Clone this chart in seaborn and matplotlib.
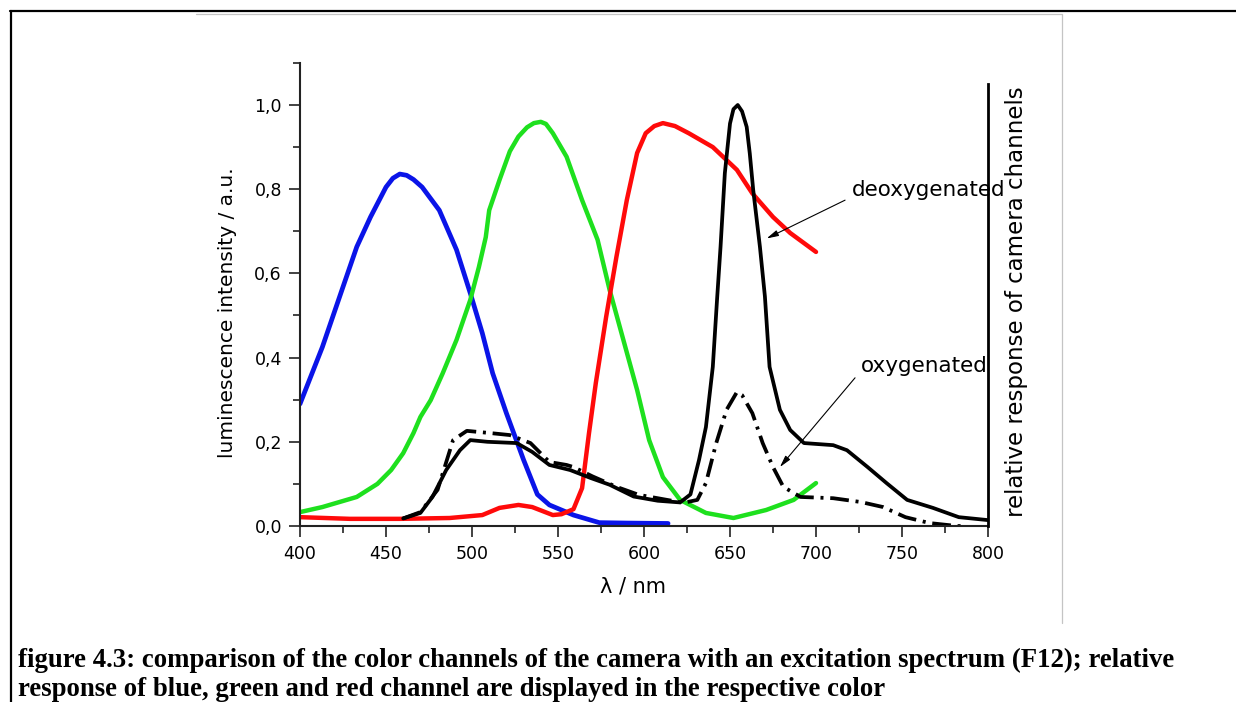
import numpy as np
import pandas as pd
import seaborn as sns
import matplotlib
matplotlib.use("Agg")
import matplotlib.pyplot as plt
from matplotlib.lines import Line2D
from matplotlib.ticker import MultipleLocator, FuncFormatter

# Camera channel responses (wavelength in nm, relative response)
blue_nm = [400, 413, 425, 433, 441, 450, 454, 458, 462, 466, 471, 481, 491,
           499, 506, 512, 520, 530, 538, 545, 559, 574, 590, 614]
blue_val = [0.29, 0.425, 0.568, 0.663, 0.734, 0.805, 0.826, 0.836, 0.833,
            0.823, 0.805, 0.75, 0.656, 0.553, 0.458, 0.363, 0.268, 0.157,
            0.075, 0.05, 0.026, 0.008, 0.007, 0.006]

green_nm = [400, 413, 433, 445, 453, 460, 466, 470, 476, 483, 491, 499, 504,
            508, 510, 516, 522, 527, 532, 536, 540, 543, 547, 555, 564, 573,
            580, 588, 596, 603, 611, 621, 636, 652, 671, 687, 700]
green_val = [0.033, 0.045, 0.069, 0.10, 0.133, 0.173, 0.221, 0.259, 0.299,
             0.363, 0.442, 0.537, 0.615, 0.686, 0.75, 0.822, 0.89, 0.925,
             0.947, 0.957, 0.96, 0.955, 0.933, 0.877, 0.774, 0.68, 0.561,
             0.442, 0.323, 0.204, 0.116, 0.062, 0.031, 0.019, 0.038, 0.062,
             0.102]

red_nm = [400, 429, 458, 487, 506, 516, 527, 535, 547, 552, 559, 564, 568,
          572, 578, 584, 590, 596, 601, 606, 611, 618, 626, 640, 654, 663,
          675, 685, 700]
red_val = [0.021, 0.017, 0.017, 0.019, 0.026, 0.043, 0.05, 0.045, 0.026,
           0.028, 0.04, 0.09, 0.22, 0.34, 0.497, 0.64, 0.774, 0.886, 0.933,
           0.95, 0.957, 0.95, 0.933, 0.90, 0.846, 0.79, 0.734, 0.696, 0.651]

# Luminescence spectra (F12)
deoxy_nm = [460, 470, 477, 485, 493, 499, 509, 526, 535, 545, 557, 569, 580,
            594, 608, 621, 627, 632, 636, 640, 642.5, 644.5, 647, 650, 652,
            654.5, 657, 659.7, 661.5, 663.5, 667.4, 670.3, 673, 679, 685, 693,
            710, 718, 730, 741, 753, 768, 783, 800]
deoxy_val = [0.018, 0.031, 0.069, 0.133, 0.18, 0.204, 0.2, 0.197, 0.176,
             0.145, 0.133, 0.114, 0.098, 0.07, 0.06, 0.056, 0.075, 0.157,
             0.235, 0.378, 0.54, 0.663, 0.838, 0.956, 0.99, 1.0, 0.985,
             0.948, 0.885, 0.798, 0.663, 0.545, 0.378, 0.276, 0.228, 0.197,
             0.192, 0.18, 0.14, 0.102, 0.062, 0.043, 0.021, 0.014]

oxy_nm = [460, 470, 480, 489, 497, 510, 522, 534, 545, 555, 559, 570, 584,
          597, 608, 623, 631, 636, 642, 648, 654, 657, 663, 669, 675, 681,
          691, 710, 726, 739, 752, 766, 782, 786]
oxy_val = [0.018, 0.033, 0.086, 0.204, 0.226, 0.221, 0.216, 0.197, 0.152,
           0.145, 0.14, 0.118, 0.093, 0.074, 0.066, 0.055, 0.062, 0.102,
           0.197, 0.276, 0.318, 0.311, 0.268, 0.197, 0.14, 0.093, 0.069,
           0.066, 0.057, 0.045, 0.021, 0.007, 0.0, 0.0]

x_ticks = [400, 450, 500, 550, 600, 650, 700, 750, 800]
y_ticks = [0.0, 0.2, 0.4, 0.6, 0.8, 1.0]

caption_lines = [
    "figure 4.3: comparison of the color channels of the camera with an "
    "excitation spectrum (F12); relative",
    "response of blue, green and red channel are displayed in the respective color",
]

sns.set_style("ticks")
plt.rcParams["font.family"] = ["DejaVu Sans"]
plt.rcParams.update({"text.color": "black", "axes.labelcolor": "black",
                     "xtick.color": "black", "ytick.color": "black"})

fig = plt.figure(figsize=(12.36, 7.02), dpi=100)
W, H = 1236, 702
ax = fig.add_axes([300 / W, 1 - 526 / H, 688 / W, 463.1 / H])

sns.lineplot(x=blue_nm, y=blue_val, ax=ax, color="#0a14e8", lw=3.4, sort=False)
sns.lineplot(x=green_nm, y=green_val, ax=ax, color="#1ee01e", lw=3.2, sort=False)
sns.lineplot(x=red_nm, y=red_val, ax=ax, color="#ff0a0a", lw=3.2, sort=False)
sns.lineplot(x=oxy_nm, y=oxy_val, ax=ax, color="black", lw=2.7, sort=False,
             linestyle=(0, (5, 1.8, 0.8, 1.8)))
sns.lineplot(x=deoxy_nm, y=deoxy_val, ax=ax, color="black", lw=2.7, sort=False)
for ln in ax.get_lines():
    ln.set_solid_joinstyle("round")
    ln.set_dash_joinstyle("round")

ax.set_xlim(400, 800)
ax.set_ylim(0, 1.1)
ax.set_xticks(x_ticks)
ax.set_yticks(y_ticks)
ax.xaxis.set_minor_locator(MultipleLocator(25))
ax.yaxis.set_minor_locator(MultipleLocator(0.1))
ax.yaxis.set_major_formatter(FuncFormatter(lambda v, p: f"{v:.1f}".replace(".", ",")))
ax.tick_params(axis="both", which="major", direction="out", length=8, width=1.2,
               labelsize=12.5, color="#222222", pad=5)
ax.tick_params(axis="both", which="minor", direction="out", length=5, width=1.2,
               color="#222222")
ax.tick_params(axis="x", which="major", pad=6)
for side in ("left", "bottom"):
    ax.spines[side].set_linewidth(1.5)
    ax.spines[side].set_color("#222222")
ax.spines["top"].set_visible(False)
ax.spines["right"].set_visible(False)

ax.set_xlabel("λ / nm", fontsize=15)
ax.xaxis.set_label_coords(0.484, -0.108)
ax.set_ylabel("luminescence intensity / a.u.", fontsize=14.5)
ax.yaxis.set_label_coords(-0.092, 0.46)

# secondary axis for the camera channel response
ax2 = ax.twinx()
ax2.set_ylim(0, 1.1)
ax2.set_yticks([])
for side in ("left", "top", "bottom"):
    ax2.spines[side].set_visible(False)
ax2.spines["right"].set_bounds(0, 1.05)
ax2.spines["right"].set_linewidth(2.0)
ax2.spines["right"].set_color("black")
ax2.set_ylabel("relative response of camera channels", fontsize=16.5)
ax2.yaxis.set_label_coords(1.025, 0.484)

arrow_kw = dict(arrowstyle="-|>,head_length=0.7,head_width=0.18", color="black",
                lw=0.8, shrinkA=0, shrinkB=0)
ax.annotate("", xy=(671.3, 0.683), xytext=(716.9, 0.774), arrowprops=arrow_kw)
ax.text(721, 0.798, "deoxygenated", fontsize=15.5, ha="left", va="center")
ax.annotate("", xy=(679, 0.14), xytext=(722.7, 0.352), arrowprops=arrow_kw)
ax.text(726.3, 0.38, "oxygenated", fontsize=15.5, ha="left", va="center")

# page decorations: outer frame and light image border
fig.add_artist(Line2D([10 / W, 1], [1 - 11 / H, 1 - 11 / H], color="black", lw=1.6,
                      transform=fig.transFigure))
fig.add_artist(Line2D([10.5 / W, 10.5 / W], [0, 1 - 11 / H], color="black", lw=1.6,
                      transform=fig.transFigure))
fig.add_artist(Line2D([196 / W, 1062 / W], [1 - 14 / H, 1 - 14 / H], color="#c4c4c4",
                      lw=0.9, transform=fig.transFigure))
fig.add_artist(Line2D([1062 / W, 1062 / W], [1 - 14 / H, 1 - 623 / H], color="#c4c4c4",
                      lw=0.9, transform=fig.transFigure))

for i, line in enumerate(caption_lines):
    fig.text(18 / W, 1 - (667 + 29 * i) / H, line, fontsize=19.3, fontweight="bold",
             family=["Liberation Serif", "DejaVu Serif"], ha="left", va="baseline",
             color="black")

fig.savefig("out.png", dpi=100)
